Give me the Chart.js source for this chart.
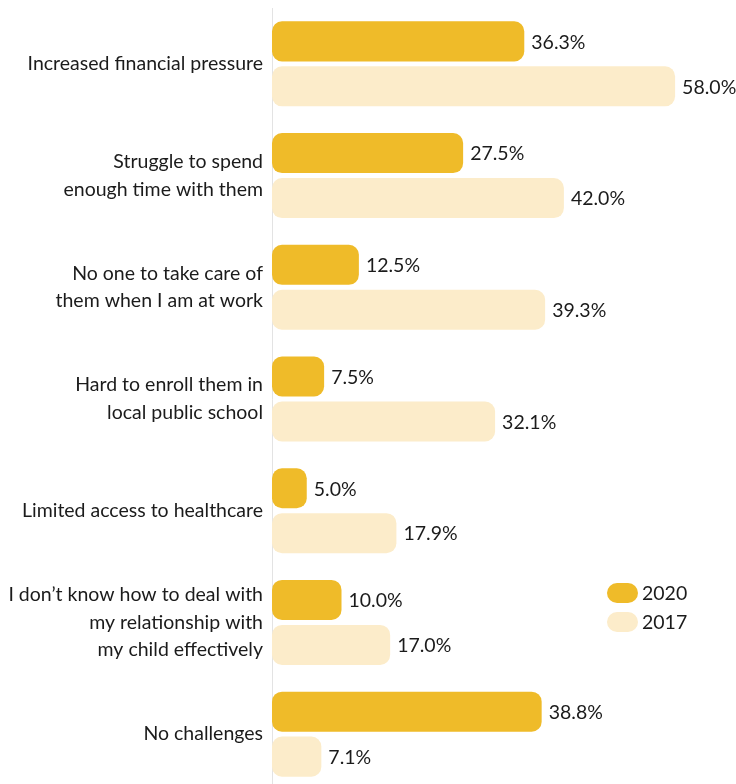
<!DOCTYPE html>
<html>
<head>
<meta charset="utf-8">
<script src="https://cdn.jsdelivr.net/npm/chart.js@4.4.1/dist/chart.umd.min.js"></script>
<style>
  html, body { margin: 0; padding: 0; background: #fff; overflow: hidden; }
  #wrap { position: relative; width: 736px; height: 791px; }
</style>
</head>
<body>
<div id="wrap"><canvas id="chart"></canvas></div>
<script>
// Challenges faced with children, 2020 vs 2017 (%)
const categories = [
  'Increased financial pressure',
  ['Struggle to spend', 'enough time with them'],
  ['No one to take care of', 'them when I am at work'],
  ['Hard to enroll them in', 'local public school'],
  'Limited access to healthcare',
  ['I don\u2019t know how to deal with', 'my relationship with', 'my child effectively'],
  'No challenges'
];
const values2020 = [36.3, 27.5, 12.5, 7.5, 5.0, 10.0, 38.8];
const values2017 = [58.0, 42.0, 39.3, 32.1, 17.9, 17.0, 7.1];
const seriesNames = ['2020', '2017'];

const GOLD = '#EFBB29';
const CREAM = '#FCECCA';
const TEXT = '#1b1b1b';
const FONT = 'Lato';
const FONT_SIZE = 19.5;

// value labels at the end of each bar
const barLabels = {
  id: 'barLabels',
  afterDatasetsDraw(chart) {
    const ctx = chart.ctx;
    ctx.save();
    ctx.font = FONT_SIZE + 'px ' + FONT;
    ctx.fillStyle = TEXT;
    ctx.textBaseline = 'middle';
    ctx.textAlign = 'left';
    chart.data.datasets.forEach((ds, i) => {
      chart.getDatasetMeta(i).data.forEach((bar, j) => {
        ctx.fillText(ds.data[j].toFixed(1) + '%', bar.x + 7, bar.y + 1);
      });
    });
    ctx.restore();
  }
};

// legend drawn in the lower right
const sideLegend = {
  id: 'sideLegend',
  afterDraw(chart) {
    const ctx = chart.ctx;
    ctx.save();
    ctx.font = FONT_SIZE + 'px ' + FONT;
    ctx.textBaseline = 'middle';
    chart.data.datasets.forEach((ds, i) => {
      const y = 593 + i * 29;
      ctx.fillStyle = ds.backgroundColor;
      ctx.beginPath();
      ctx.roundRect(607, y - 10, 31, 20, 10);
      ctx.fill();
      ctx.fillStyle = TEXT;
      ctx.fillText(ds.label, 642, y + 1);
    });
    ctx.restore();
  }
};

new Chart(document.getElementById('chart'), {
  type: 'bar',
  data: {
    labels: categories,
    datasets: [
      { label: seriesNames[0], data: values2020, backgroundColor: GOLD },
      { label: seriesNames[1], data: values2017, backgroundColor: CREAM }
    ]
  },
  options: {
    indexAxis: 'y',
    responsive: true,
    maintainAspectRatio: false,
    animation: false,
    layout: { padding: { top: 8, bottom: 1, left: 0, right: 47 } },
    datasets: {
      bar: {
        categoryPercentage: 0.805,
        barPercentage: 0.89,
        borderRadius: 10,
        borderSkipped: false
      }
    },
    scales: {
      x: {
        display: false,
        min: 0,
        max: 60
      },
      y: {
        afterFit(scale) {
          scale.width = 272;
          scale.paddingTop = 0;
          scale.paddingBottom = 0;
        },
        grid: { display: false },
        border: { display: true, color: '#e3e3e3', width: 1 },
        ticks: {
          padding: 1,
          color: TEXT,
          font: { family: FONT, size: FONT_SIZE, lineHeight: 1.42 }
        }
      }
    },
    plugins: {
      legend: { display: false },
      tooltip: { enabled: false }
    }
  },
  plugins: [barLabels, sideLegend]
});
</script>
</body>
</html>
